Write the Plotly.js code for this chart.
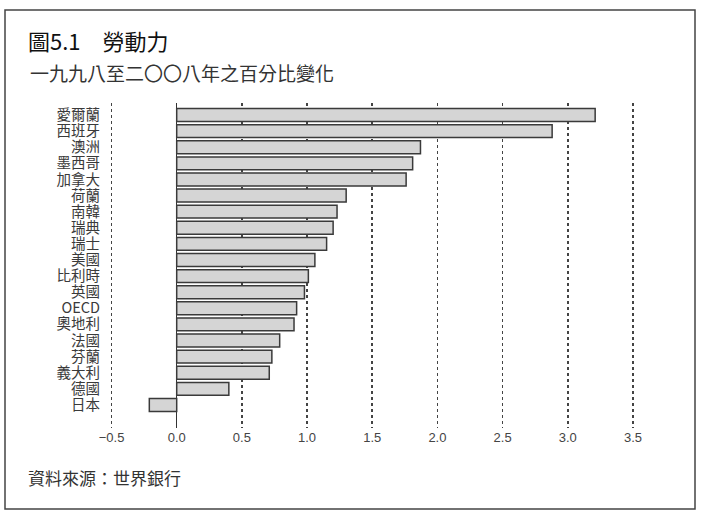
<!DOCTYPE html>
<html>
<head>
<meta charset="utf-8">
<script src="https://cdn.plot.ly/plotly-3.0.1.min.js"></script>
<style>
  body { margin: 0; background: #fff; }
  #chart { width: 715px; height: 528px; }
</style>
</head>
<body>
<div id="chart"></div>
<script>
const countries = [
  "愛爾蘭", "西班牙", "澳洲", "墨西哥", "加拿大", "荷蘭", "南韓", "瑞典", "瑞士", "美國",
  "比利時", "英國", "OECD", "奧地利", "法國", "芬蘭", "義大利", "德國", "日本",
];
const changePct = [
  3.21, 2.88, 1.87, 1.81, 1.76, 1.30, 1.23, 1.20, 1.15, 1.06,
  1.01, 0.98, 0.92, 0.90, 0.79, 0.73, 0.71, 0.40, -0.21,
];
const xTicks = [-0.5, 0, 0.5, 1, 1.5, 2, 2.5, 3, 3.5];

const titleText = "圖5.1　勞動力";
const subtitleText = "一九九八至二〇〇八年之百分比變化";
const sourceText = "資料來源：世界銀行";

// plot box in pixels, used to place the frame and the text outside it
const W = 715, H = 528;
const margin = { l: 105, r: 69, t: 103, b: 100 };
const plotW = W - margin.l - margin.r;
const plotH = H - margin.t - margin.b;
const px = (x) => (x - margin.l) / plotW;
const py = (y) => (H - margin.b - y) / plotH;

const cjk = "'Noto Sans CJK TC', 'Noto Sans CJK SC', sans-serif";
const ink = "#333";

const data = [
  {
    type: "bar",
    orientation: "h",
    x: changePct,
    y: countries,
    width: 0.8,
    marker: { color: "#d5d5d5", line: { color: "#3a3a3a", width: 1.5 } },
    hoverinfo: "x+y",
  },
];

const layout = {
  width: W,
  height: H,
  margin: margin,
  paper_bgcolor: "#fff",
  plot_bgcolor: "#fff",
  showlegend: false,
  font: { family: cjk, color: ink },
  title: {
    text: titleText,
    xref: "container",
    yref: "container",
    x: 28 / W,
    y: 1 - 42 / H,
    xanchor: "left",
    yanchor: "middle",
    font: { family: cjk, size: 22, color: "#111" },
  },
  xaxis: {
    range: [-0.55, 3.6],
    tickvals: xTicks,
    tickformat: ".1f",
    showgrid: true,
    gridcolor: "#444",
    gridwidth: 1.5,
    griddash: "dot",
    zeroline: true,
    zerolinecolor: "#333",
    zerolinewidth: 1.5,
    showline: false,
    ticks: "",
    tickfont: { family: "'Liberation Sans Narrow', 'Liberation Sans', sans-serif", size: 13, color: "#444" },
    fixedrange: true,
  },
  yaxis: {
    type: "category",
    categoryorder: "array",
    categoryarray: countries,
    tickmode: "array",
    tickvals: countries,
    ticktext: countries,
    range: [19.43, -0.745],
    showgrid: false,
    zeroline: false,
    showline: false,
    ticks: "",
    ticklabelstandoff: 4,
    tickfont: { family: cjk, size: 14.5, color: "#3a3a3a" },
    fixedrange: true,
  },
  annotations: [
    {
      text: subtitleText,
      xref: "paper", yref: "paper",
      x: px(28), y: py(72),
      xanchor: "left", yanchor: "middle",
      showarrow: false,
      font: { family: cjk, size: 19, color: "#333" },
    },
    {
      text: sourceText,
      xref: "paper", yref: "paper",
      x: px(26), y: py(477),
      xanchor: "left", yanchor: "middle",
      showarrow: false,
      font: { family: cjk, size: 17, color: "#333" },
    },
  ],
  shapes: [
    {
      type: "rect",
      xref: "paper", yref: "paper",
      x0: px(5), x1: px(695),
      y0: py(509), y1: py(10),
      line: { color: "#444", width: 1.5 },
      fillcolor: "rgba(0,0,0,0)",
      layer: "below",
    },
  ],
};

Plotly.newPlot("chart", data, layout, { displayModeBar: false, staticPlot: true });
</script>
</body>
</html>
